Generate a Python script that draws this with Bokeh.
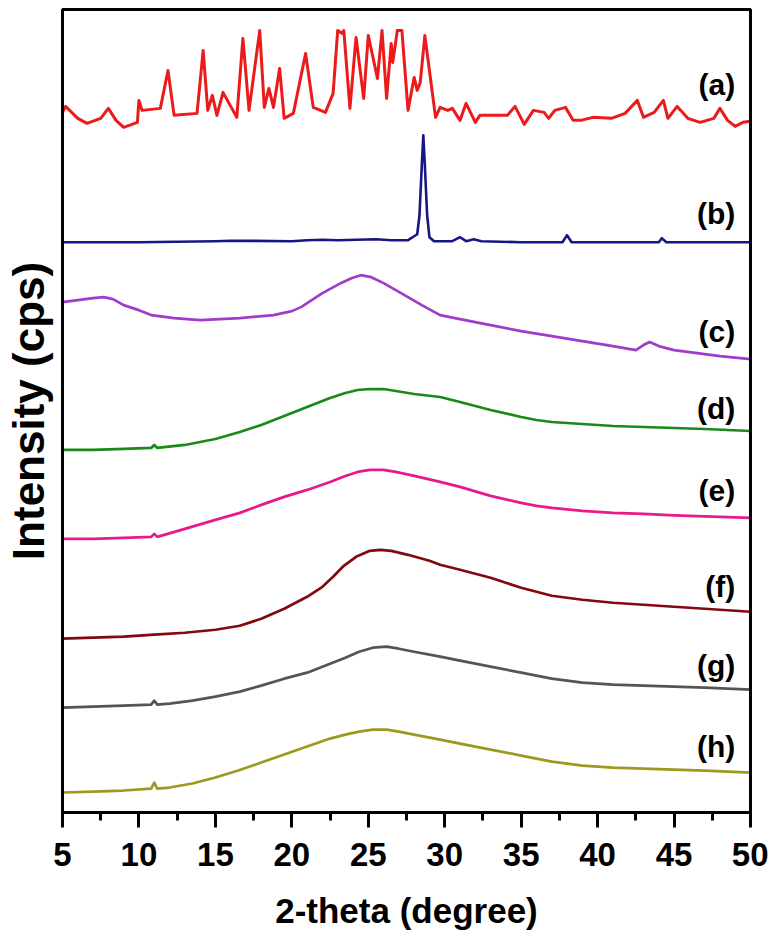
from bokeh.plotting import figure
from bokeh.models import FixedTicker, Range1d, LinearAxis
from bokeh.core.properties import value
from bokeh.embed import file_html
from bokeh.resources import INLINE

# ---------------- data (2-theta in degree, stacked intensity in arbitrary cps) ----------------
A_TT = [5.0, 5.2, 6.0, 6.6, 7.5, 8.0, 8.5, 9.0, 9.9, 10.0, 10.2, 11.4, 11.9, 12.3, 13.8, 14.2, 14.5,
        14.8, 15.1, 15.5, 16.4, 16.8, 17.2, 17.9, 18.2, 18.5, 18.8, 19.2, 19.5, 20.1, 20.9, 21.4,
        22.2, 22.7, 23.0, 23.3, 23.4, 23.8, 24.2, 24.7, 25.0, 25.6, 25.9, 26.2, 26.5, 26.6, 26.9,
        27.2, 27.6, 28.0, 28.2, 28.4, 28.7, 29.4, 29.7, 30.2, 30.5, 31.0, 31.4, 32.0, 32.3, 33.5,
        34.1, 34.6, 35.2, 35.8, 36.5, 36.8, 37.2, 37.9, 38.4, 38.9, 39.7, 40.9, 41.8, 42.6, 43.0,
        43.7, 44.3, 44.6, 45.2, 45.9, 46.7, 47.6, 48.0, 48.5, 49.0, 49.5, 50.0]
A_I = [701, 707, 695, 690, 695, 705, 693, 686, 691, 713, 703, 705, 743, 698, 700, 763, 703,
       718, 698, 721, 696, 775, 703, 783, 706, 725, 706, 745, 695, 700, 760, 706,
       701, 720, 783, 780, 783, 705, 776, 715, 778, 735, 783, 715, 770, 751, 783,
       783, 703, 736, 723, 731, 778, 696, 706, 703, 705, 693, 710, 691, 698, 698,
       698, 707, 689, 703, 701, 695, 703, 706, 693, 693, 696, 695, 700, 713, 696,
       701, 713, 695, 707, 695, 691, 695, 705, 693, 687, 691, 692]

B_TT = [5.0, 10.0, 15.0, 16.0, 20.0, 21.0, 22.0, 23.0, 25.5, 26.5, 27.6, 28.0, 28.2, 28.35,
        28.5, 28.6, 28.7, 28.85, 29.0, 29.3, 30.5, 31.0, 31.4, 31.9, 32.4, 35.0, 37.7, 38.0,
        38.3, 44.0, 44.2, 44.5, 50.0]
B_I = [571, 571, 572, 572.5, 572, 573, 573.5, 573, 574, 573, 573, 577, 579, 598,
       648, 678, 648, 598, 576, 572, 572, 576, 572, 574, 572, 571, 571, 578,
       571, 571, 575, 571, 571]

C_TT = [5.0, 6.0, 7.0, 7.7, 8.3, 9.0, 10.0, 10.8, 12.3, 14.0, 16.6, 18.8, 20.0, 20.6, 21.3,
        22.0, 22.6, 23.2, 23.9, 24.5, 25.2, 26.0, 26.8, 27.6, 28.5, 29.7, 31.0, 33.0, 35.0,
        37.0, 39.0, 41.0, 42.5, 43.0, 43.4, 44.0, 45.0, 46.5, 48.0, 50.0]
C_I = [511, 513, 515, 516, 514, 508, 503, 498, 495, 493, 495, 498, 502, 506, 513,
       520, 525, 530, 535, 538, 536, 530, 523, 516, 508, 498, 494, 488, 482,
       477, 472, 467, 463, 468, 471, 467, 463, 460, 457, 454]

D_TT = [5.0, 7.0, 9.0, 10.8, 11.0, 11.2, 13.0, 15.0, 16.6, 18.0, 19.5, 21.0, 22.5, 23.5, 24.3,
        25.1, 26.0, 26.8, 28.0, 29.7, 31.0, 33.0, 35.0, 36.0, 37.0, 39.0, 41.0, 43.0, 45.0,
        47.0, 50.0]
D_I = [363, 363, 364, 365, 368, 365, 368, 374, 381, 388, 397, 406, 415, 420, 423,
       424, 424, 422, 419, 416, 411, 403, 396, 393, 391, 389, 387, 386, 385,
       384, 382]

E_TT = [5.0, 7.0, 9.0, 10.8, 11.0, 11.2, 13.0, 15.0, 16.6, 18.0, 19.5, 21.0, 22.5, 23.5, 24.3,
        25.1, 26.0, 26.8, 28.0, 29.7, 31.0, 33.0, 35.0, 36.0, 37.0, 39.0, 41.0, 43.0, 45.0,
        47.0, 50.0]
E_I = [274, 274, 275, 276, 279, 276, 284, 293, 300, 308, 316, 323, 331, 337, 341,
       343, 343, 341, 337, 331, 326, 317, 310, 307, 305, 302, 300, 299, 297.5,
       296.5, 295]

F_TT = [5.0, 7.0, 9.0, 11.0, 13.0, 15.0, 16.6, 18.0, 19.5, 21.0, 22.0, 22.7, 23.4, 24.2,
        25.1, 25.8, 26.5, 27.6, 29.0, 29.7, 31.0, 33.0, 35.0, 36.0, 37.0, 39.0, 41.0, 43.0,
        45.0, 47.0, 50.0]
F_I = [174, 175, 176, 178, 180, 183, 187, 194, 204, 216, 226, 236, 247, 256,
       262, 263, 262, 258, 252, 248, 243, 235, 225, 221, 217, 213, 210, 208,
       206, 204, 201]

G_TT = [5.0, 7.0, 9.0, 10.8, 11.0, 11.2, 12.0, 13.5, 15.0, 16.6, 18.0, 19.5, 21.0, 22.5, 23.5,
        24.4, 25.3, 26.2, 27.0, 28.0, 29.7, 31.0, 33.0, 35.0, 36.0, 37.0, 39.0, 41.0, 43.0,
        45.0, 47.0, 50.0]
G_I = [105, 106, 107, 108, 112, 108, 109, 112, 116, 121, 127, 134, 140, 149, 155,
       161, 165, 166, 164, 161, 156, 152, 146, 140, 137, 134, 130, 128, 127,
       126, 125, 123]

H_TT = [5.0, 7.0, 9.0, 10.8, 11.0, 11.2, 12.0, 13.5, 15.0, 16.5, 18.0, 19.5, 21.0, 22.5, 23.5,
        24.4, 25.3, 26.2, 27.0, 28.0, 29.7, 31.0, 33.0, 35.0, 36.0, 37.0, 39.0, 41.0, 43.0,
        45.0, 47.0, 50.0]
H_I = [20, 21, 22, 24, 30, 24, 25, 29, 35, 42, 50, 58, 66, 74, 78,
       81, 83, 83, 81, 78, 73, 69, 63, 57, 54, 51, 47, 45, 44,
       43, 42, 40]

SAMPLE_LABELS = ["(a)", "(b)", "(c)", "(d)", "(e)", "(f)", "(g)", "(h)"]
LABEL_LEVELS = [729, 600, 482, 405, 322, 226, 147, 66]
LABEL_POS = 49.0

X_TICKS = [5, 10, 15, 20, 25, 30, 35, 40, 45, 50]
X_MINOR = [7.5, 12.5, 17.5, 22.5, 27.5, 32.5, 37.5, 42.5, 47.5]

SERIES = [
    (A_TT, A_I, "#ec1b1b", 3.0),
    (B_TT, B_I, "#161684", 2.6),
    (C_TT, C_I, "#a03ccb", 2.7),
    (D_TT, D_I, "#198a19", 2.7),
    (E_TT, E_I, "#e8198a", 2.7),
    (F_TT, F_I, "#800a0f", 2.7),
    (G_TT, G_I, "#555555", 2.7),
    (H_TT, H_I, "#9c9a1e", 2.7),
]

FONT = value("Liberation Sans")

p = figure(width=768, height=932, output_backend="svg", toolbar_location=None,
           x_range=Range1d(5, 50), y_range=Range1d(0, 804),
           min_border_left=62, min_border_right=18, min_border_top=9, min_border_bottom=119,
           background_fill_color="white", border_fill_color="white")

for tt, inten, col, lw in SERIES:
    p.line(tt, inten, line_color=col, line_width=lw, line_join="round")

p.text(x=[LABEL_POS] * len(SAMPLE_LABELS), y=LABEL_LEVELS, text=SAMPLE_LABELS,
       text_align="right", text_baseline="middle", text_font=FONT,
       text_font_style="bold", text_font_size="30px", text_color="black")

p.grid.visible = False
p.outline_line_color = "black"
p.outline_line_width = 3

xa = p.below[0]
ya = p.left[0]

# plain frame lines on top and right
for side in ("above", "right"):
    ax = LinearAxis(ticker=FixedTicker(ticks=[]), axis_line_width=3,
                    major_tick_line_color=None, minor_tick_line_color=None,
                    major_label_text_font_size="0px", major_label_standoff=0)
    p.add_layout(ax, side)

xa.ticker = FixedTicker(ticks=X_TICKS, minor_ticks=X_MINOR)
xa.axis_line_width = 3
xa.major_tick_line_width = 3
xa.minor_tick_line_width = 3
xa.major_tick_in = 0
xa.major_tick_out = 15
xa.minor_tick_in = 0
xa.minor_tick_out = 8
xa.major_label_standoff = 15
xa.major_label_text_font = "Liberation Sans"
xa.major_label_text_font_style = "bold"
xa.major_label_text_font_size = "33px"
xa.major_label_text_color = "black"
xa.axis_label = "2-theta (degree)"
xa.axis_label_text_font = "Liberation Sans"
xa.axis_label_text_font_style = "bold"
xa.axis_label_text_font_size = "35px"
xa.axis_label_text_color = "black"
xa.axis_label_standoff = 22

ya.ticker = FixedTicker(ticks=[])
ya.axis_line_width = 3
ya.major_tick_line_color = None
ya.minor_tick_line_color = None
ya.major_label_text_font_size = "0px"
ya.major_label_standoff = 0
ya.axis_label = "Intensity (cps)"
ya.axis_label_text_font = "Liberation Sans"
ya.axis_label_text_font_style = "bold"
ya.axis_label_text_font_size = "44px"
ya.axis_label_text_line_height = 0.8
ya.axis_label_text_color = "black"
ya.axis_label_standoff = 10

open("out.html", "w").write(file_html(p, INLINE))
